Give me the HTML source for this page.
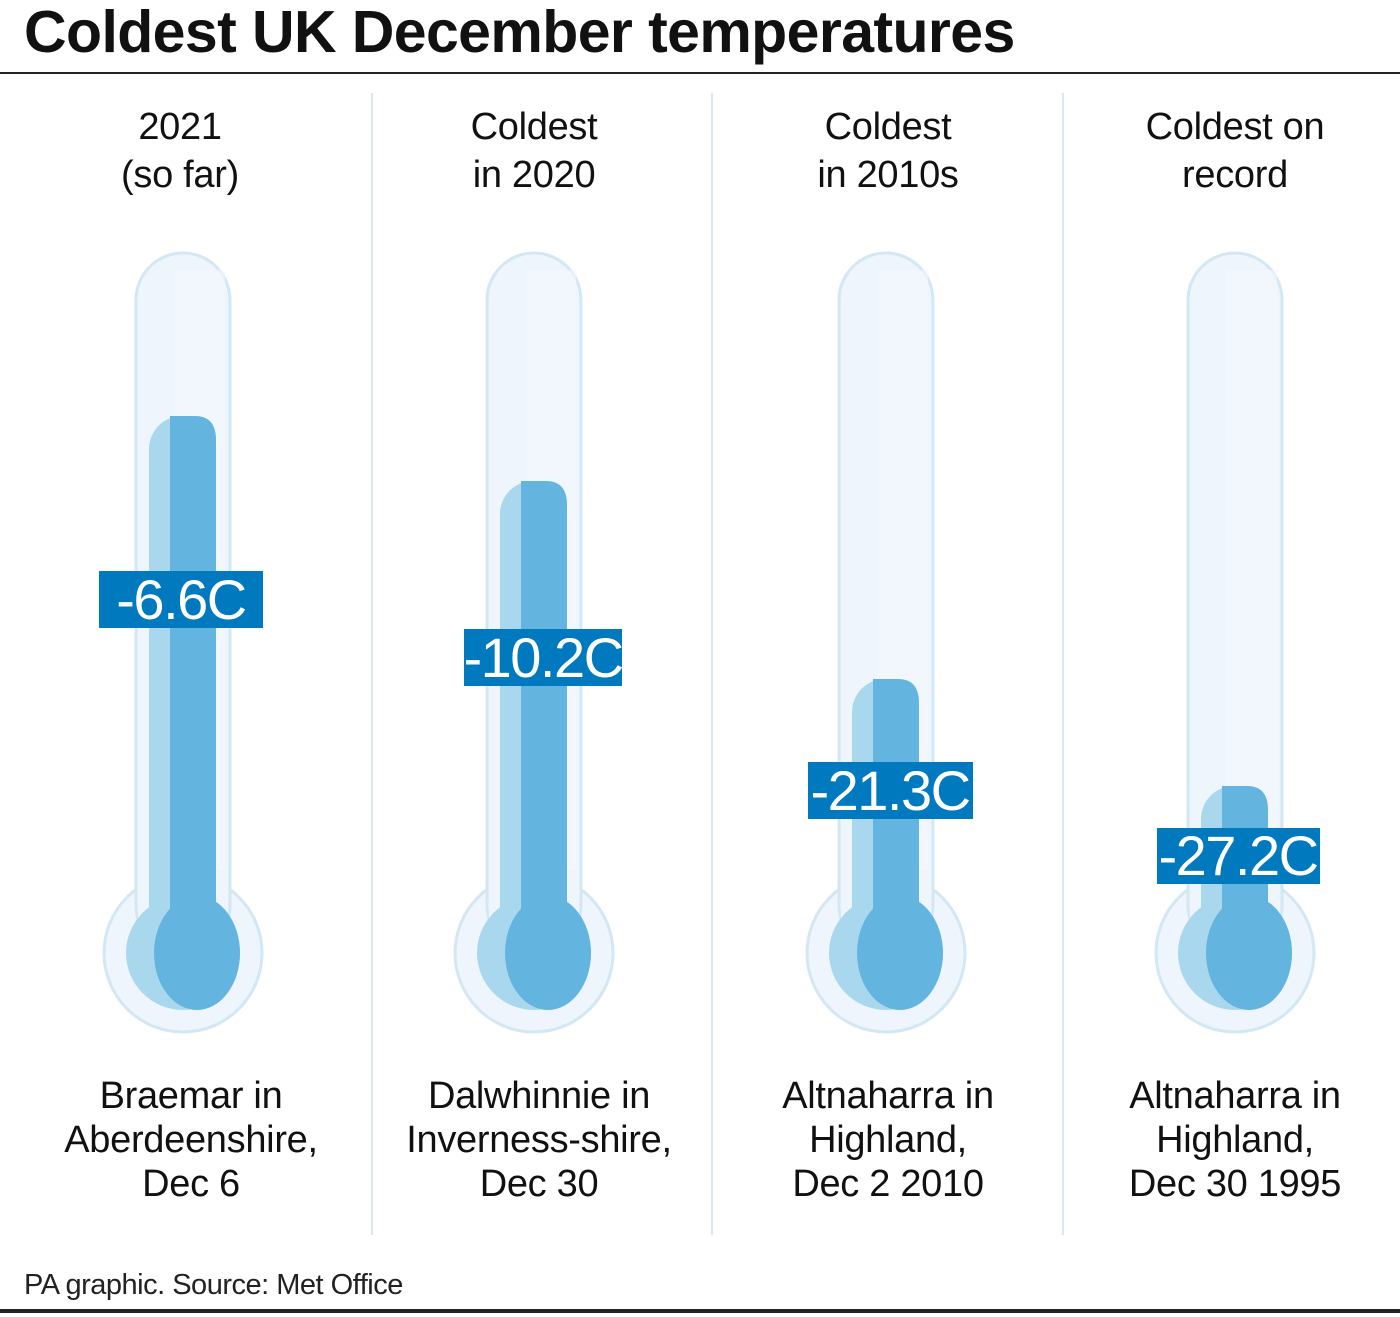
<!DOCTYPE html>
<html><head><style>
body{margin:0;width:1400px;height:1317px;background:#fff;font-family:"Liberation Sans",sans-serif;position:relative;overflow:hidden}
.t{position:absolute;white-space:nowrap;color:#111}
.c{text-align:center;transform:translateX(-50%);font-size:38px;line-height:48px;letter-spacing:-0.3px}
.b{text-align:center;transform:translateX(-50%);font-size:38px;line-height:44px;letter-spacing:-0.3px}
</style></head><body>
<div class="t" style="left:24px;top:-2px;font-size:59px;font-weight:bold;letter-spacing:-0.6px">Coldest UK December temperatures</div>
<div style="position:absolute;left:0;top:72px;width:1400px;height:2px;background:#222"></div>
<div style="position:absolute;left:0;top:1309px;width:1400px;height:4px;background:#222"></div>
<div class="t" style="left:24px;top:1269px;font-size:29px;letter-spacing:-0.5px;color:#222">PA graphic. Source: Met Office</div>
<svg width="1400" height="1317" style="position:absolute;left:0;top:0">
<g stroke="#d8e9f3" stroke-width="2"><line x1="372" y1="93" x2="372" y2="1235"/><line x1="712" y1="93" x2="712" y2="1235"/><line x1="1063" y1="93" x2="1063" y2="1235"/></g>
<defs>
<g id="th">
<circle cx="0" cy="953" r="79" fill="#eef5fc" stroke="#d3e7f4" stroke-width="3"/>
<rect x="-47" y="253" width="94" height="700" rx="47" fill="#eef5fc" stroke="#d3e7f4" stroke-width="3"/>
<rect x="-45" y="300" width="90" height="660" fill="#eef5fc"/>
<rect x="-8" y="270" width="50" height="600" fill="#f3f8fd" opacity="0.6"/>
</g>
</defs>
<use href="#th" x="183"/><use href="#th" x="534"/><use href="#th" x="886"/><use href="#th" x="1235"/>
<g>
<rect x="149" y="416" width="67" height="540" rx="33" fill="#a9d7ee"/><circle cx="183" cy="953" r="57" fill="#a9d7ee"/>
<path d="M170 416 H195 Q216 416 216 440 V953 H170 Z" fill="#63b5e0"/><ellipse cx="197" cy="953" rx="43" ry="57" fill="#63b5e0"/>
</g>
<g transform="translate(351,65)"><rect x="149" y="416" width="67" height="475" rx="33" fill="#a9d7ee"/><circle cx="183" cy="888" r="57" fill="#a9d7ee"/>
<path d="M170 416 H195 Q216 416 216 440 V888 H170 Z" fill="#63b5e0"/><ellipse cx="197" cy="888" rx="43" ry="57" fill="#63b5e0"/></g>
<g transform="translate(703,263)"><rect x="149" y="416" width="67" height="277" rx="33" fill="#a9d7ee"/><circle cx="183" cy="690" r="57" fill="#a9d7ee"/>
<path d="M170 416 H195 Q216 416 216 440 V690 H170 Z" fill="#63b5e0"/><ellipse cx="197" cy="690" rx="43" ry="57" fill="#63b5e0"/></g>
<g transform="translate(1052,370)"><rect x="149" y="416" width="67" height="170" rx="33" fill="#a9d7ee"/><circle cx="183" cy="583" r="57" fill="#a9d7ee"/>
<path d="M170 416 H195 Q216 416 216 440 V583 H170 Z" fill="#63b5e0"/><ellipse cx="197" cy="583" rx="43" ry="57" fill="#63b5e0"/></g>
<g fill="#0079bf"><rect x="99" y="571" width="164" height="57"/><rect x="464" y="629" width="158" height="57"/><rect x="808" y="762" width="165" height="57"/><rect x="1157" y="828" width="163" height="56"/></g>
<g fill="#fff" font-family="Liberation Sans,sans-serif" font-size="56" text-anchor="middle" letter-spacing="-1.5">
<text x="181" y="619">-6.6C</text><text x="543" y="677">-10.2C</text><text x="890" y="810">-21.3C</text><text x="1238" y="875">-27.2C</text></g>
</svg>
<div class="t c" style="left:180px;top:103px">2021<br>(so far)</div>
<div class="t c" style="left:534px;top:103px">Coldest<br>in 2020</div>
<div class="t c" style="left:888px;top:103px">Coldest<br>in 2010s</div>
<div class="t c" style="left:1235px;top:103px">Coldest on<br>record</div>
<div class="t b" style="left:191px;top:1074px">Braemar in<br>Aberdeenshire,<br>Dec 6</div>
<div class="t b" style="left:539px;top:1074px">Dalwhinnie in<br>Inverness-shire,<br>Dec 30</div>
<div class="t b" style="left:888px;top:1074px">Altnaharra in<br>Highland,<br>Dec 2 2010</div>
<div class="t b" style="left:1235px;top:1074px">Altnaharra in<br>Highland,<br>Dec 30 1995</div>
</body></html>
